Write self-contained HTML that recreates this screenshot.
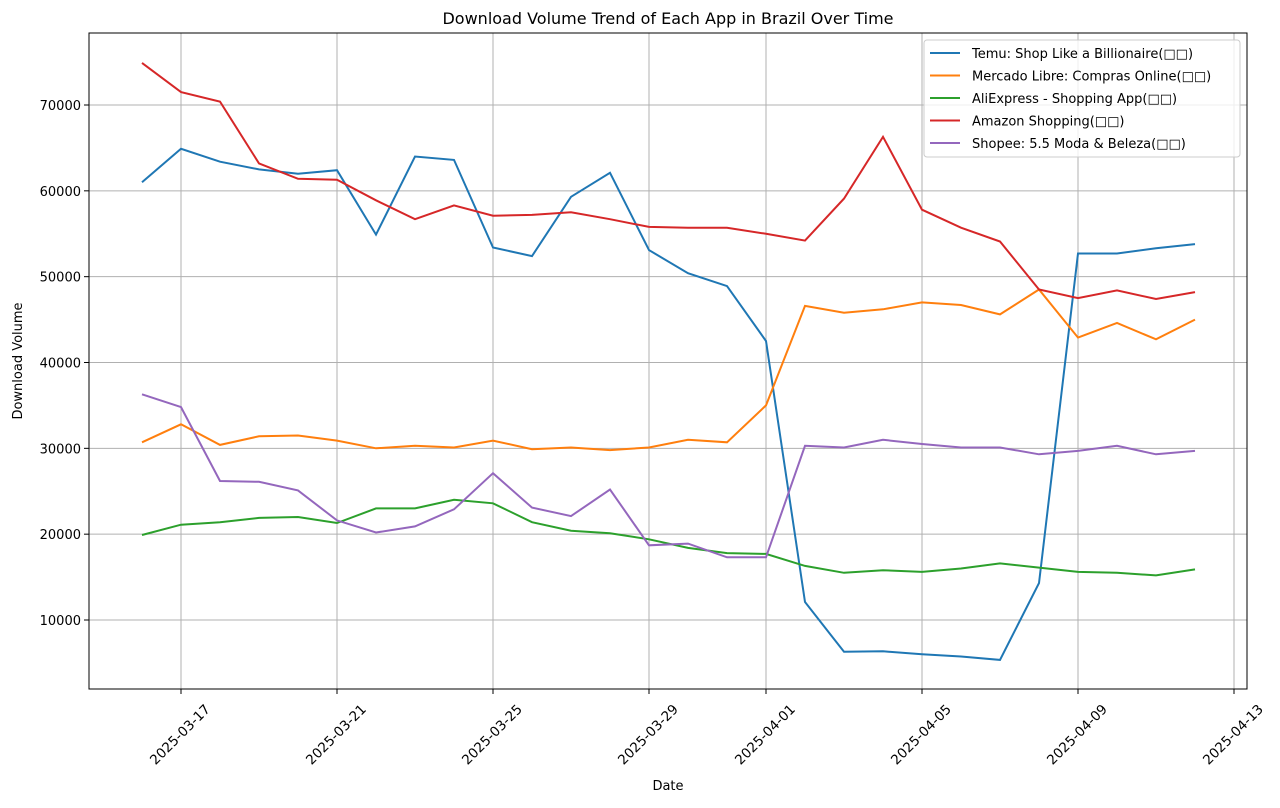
<!DOCTYPE html>
<html><head><meta charset="utf-8"><style>
body{margin:0;background:#fff;}
svg text{font-family:"DejaVu Sans","Liberation Sans",sans-serif;fill:#000;}
</style></head><body>
<svg id="s" width="1280" height="803" xmlns="http://www.w3.org/2000/svg"></svg>
<script>
const s=document.getElementById('s');
const L=89,R=1247,T=33,B=689;
const X=i=>142+i*39, Y=v=>620-(v-10000)*0.0085833;
let h='';
const xt=[[1,'2025-03-17'],[5,'2025-03-21'],[9,'2025-03-25'],[13,'2025-03-29'],[16,'2025-04-01'],[20,'2025-04-05'],[24,'2025-04-09'],[28,'2025-04-13']];
for(const [i] of xt) h+=`<line x1="${X(i)}" y1="${T}" x2="${X(i)}" y2="${B}" stroke="#b0b0b0" stroke-width="1"/>`;
for(let v=10000;v<=70000;v+=10000) h+=`<line x1="${L}" y1="${Y(v)}" x2="${R}" y2="${Y(v)}" stroke="#b0b0b0" stroke-width="1"/>`;
const D={
'#1f77b4':[61000,64900,63400,62500,62000,62400,54900,64000,63600,53400,52400,59300,62100,53100,50400,48900,42500,12100,6300,6350,6000,5750,5350,14300,52700,52700,53300,53800],
'#ff7f0e':[30700,32800,30400,31400,31500,30900,30000,30300,30100,30900,29900,30100,29800,30100,31000,30700,35000,46600,45800,46200,47000,46700,45600,48500,42900,44600,42700,45000],
'#2ca02c':[19900,21100,21400,21900,22000,21300,23000,23000,24000,23600,21400,20400,20100,19400,18400,17800,17700,16300,15500,15800,15600,16000,16600,16100,15600,15500,15200,15900],
'#d62728':[74900,71500,70400,63200,61400,61300,58900,56700,58300,57100,57200,57500,56700,55800,55700,55700,55000,54200,59100,66300,57800,55700,54100,48500,47500,48400,47400,48200],
'#9467bd':[36300,34800,26200,26100,25100,21600,20200,20900,22900,27100,23100,22100,25200,18700,18900,17300,17300,30300,30100,31000,30500,30100,30100,29300,29700,30300,29300,29700]};
for(const c in D) h+=`<polyline fill="none" stroke="${c}" stroke-width="2" points="${D[c].map((v,i)=>X(i)+','+Y(v).toFixed(1)).join(' ')}"/>`;
h+=`<rect x="${L}" y="${T}" width="${R-L}" height="${B-T}" fill="none" stroke="#000" stroke-width="1"/>`;
for(const [i,t] of xt){h+=`<line x1="${X(i)}" y1="${B}" x2="${X(i)}" y2="${B+5}" stroke="#000"/>`;
h+=`<text font-size="13.5" text-anchor="end" transform="translate(${X(i)+30},${B+21}) rotate(-45)">${t}</text>`;}
for(let v=10000;v<=70000;v+=10000){h+=`<line x1="${L-5}" y1="${Y(v)}" x2="${L}" y2="${Y(v)}" stroke="#000"/>`;
h+=`<text font-size="13" text-anchor="end" x="${L-8}" y="${Y(v)+5}">${v}</text>`;}
h+=`<text font-size="16" text-anchor="middle" x="668" y="24">Download Volume Trend of Each App in Brazil Over Time</text>`;
h+=`<text font-size="13" text-anchor="middle" x="668" y="790">Date</text>`;
h+=`<text font-size="13" text-anchor="middle" transform="translate(22,361) rotate(-90)">Download Volume</text>`;
h+=`<rect x="924" y="40" width="316" height="117" rx="3" fill="#fff" fill-opacity="0.8" stroke="#ccc"/>`;
const names=['Temu: Shop Like a Billionaire(□□)','Mercado Libre: Compras Online(□□)','AliExpress - Shopping App(□□)','Amazon Shopping(□□)','Shopee: 5.5 Moda &amp; Beleza(□□)'];
Object.keys(D).forEach((c,k)=>{const y=53+k*22.5;
h+=`<line x1="930" y1="${y}" x2="960" y2="${y}" stroke="${c}" stroke-width="2"/>`;
h+=`<text font-size="13" x="972" y="${y+5}">${names[k]}</text>`;});
s.innerHTML=h;
</script></body></html>
